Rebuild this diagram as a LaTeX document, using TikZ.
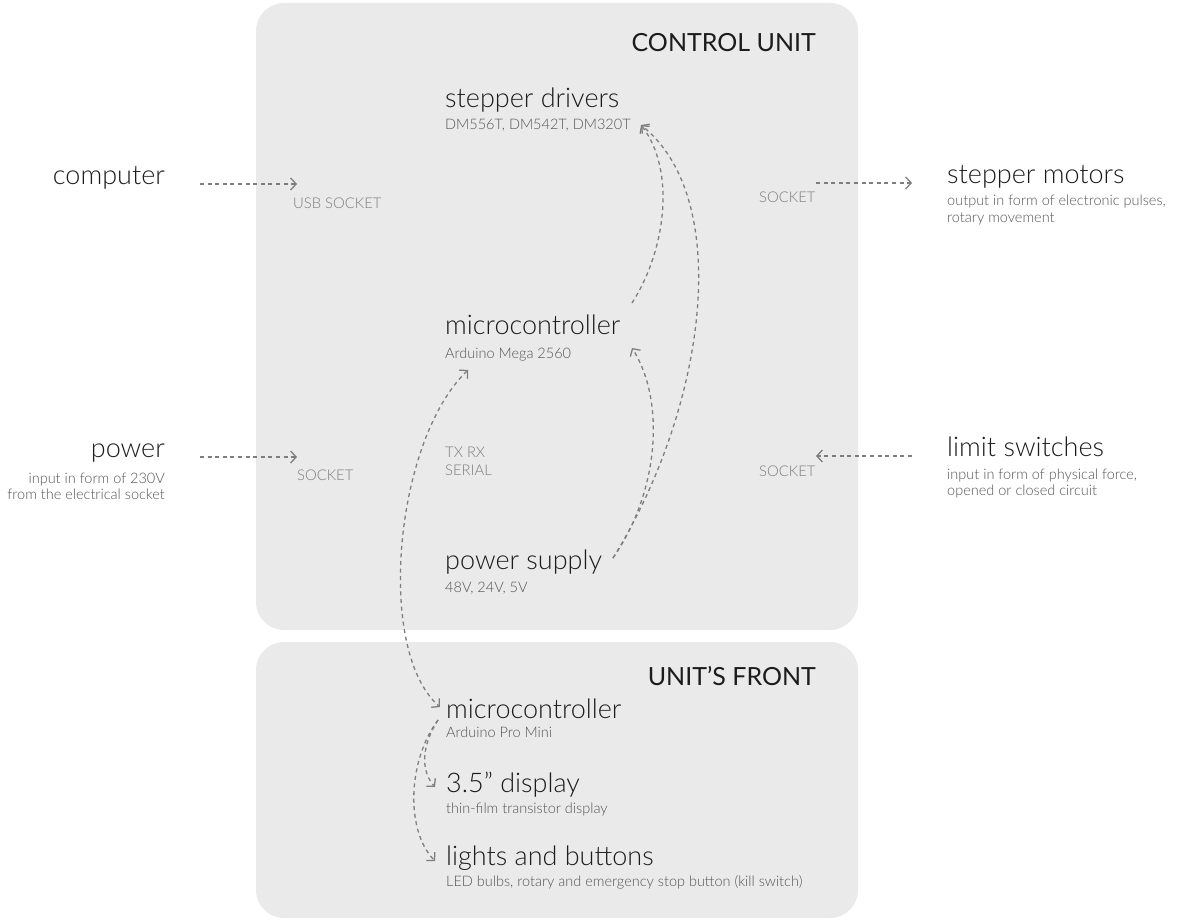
\documentclass[tikz,border=0pt]{standalone}
\usepackage{fontspec}
\IfFontExistsTF{Lato Light}{\setmainfont{Lato Light}}{\setmainfont{Lato}}
\newfontfamily\headfont{Lato}
\usetikzlibrary{arrows.meta,calc}
\definecolor{panelgray}{HTML}{EAEAEA}
\definecolor{titlecol}{HTML}{1C1C1C}
\definecolor{subcol}{HTML}{555555}
\definecolor{sockcol}{HTML}{7C7C7C}
\definecolor{linkcol}{HTML}{7E7E7E}
\tikzset{
  barb/.tip={Straight Barb[length=5.5pt,width=12pt,line width=1.3pt]},
  panel/.style={fill=panelgray, rounded corners=28pt},
  head/.style={inner sep=0pt, anchor=base east, text=titlecol, font=\headfont\fontsize{25}{30}\selectfont},
  ttl/.style={inner sep=0pt, text=titlecol, font=\fontsize{27}{31}\selectfont},
  sub/.style={inner sep=0pt, text=subcol, font=\fontsize{14.5}{17}\selectfont},
  sock/.style={inner sep=0pt, anchor=base west, text=sockcol, font=\fontsize{14.8}{17}\selectfont},
  link/.style={draw=linkcol, line width=1.3pt, dash pattern=on 4pt off 3.6pt, -{barb}},
  biglink/.style={link, {barb}-{barb}},
}
\begin{document}
\begin{tikzpicture}[x=1pt, y=-1pt]
\useasboundingbox (0,0) rectangle (1182,923);
\fill[white] (0,0) rectangle (1182,923);

% the two housings
\fill[panel] (256,3) rectangle (858,630);
\fill[panel] (256,642) rectangle (858,918);
\node[head] (cuhead) at (816,52) {CONTROL UNIT};
\node[head] (fronthead) at (816,685) {UNIT’S FRONT};

% control unit contents
\node[ttl, anchor=base west] (drv) at (445,108) {stepper drivers};
\node[sub, anchor=base west] (drvsub) at (445,129) {DM556T, DM542T, DM320T};
\node[ttl, anchor=base west] (mcu) at (445,334) {microcontroller};
\node[sub, anchor=base west] (mcusub) at (445,358) {Arduino Mega 2560};
\node[sock] (txrx) at (445,457) {TX RX};
\node[sock] (serial) at (445,475) {SERIAL};
\node[ttl, anchor=base west] (psu) at (445,569) {power supply};
\node[sub, anchor=base west] (psusub) at (445,592) {48V, 24V, 5V};

% sockets
\node[sock] (usb) at (293,208) {USB SOCKET};
\node[sock] (psock) at (297,480) {SOCKET};
\node[sock] (msock) at (759,202) {SOCKET};
\node[sock] (lsock) at (759,476) {SOCKET};

% front panel contents
\node[ttl, anchor=base west] (fmcu) at (446,718) {microcontroller};
\node[sub, anchor=base west] (fmcusub) at (446,737) {Arduino Pro Mini};
\node[ttl, anchor=base west] (disp) at (446,792) {3.5” display};
\node[sub, anchor=base west] (dispsub) at (446,813) {thin-film transistor display};
\node[ttl, anchor=base west] (lights) at (446,865) {lights and buttons};
\node[sub, anchor=base west] (lightssub) at (446,886) {LED bulbs, rotary and emergency stop button (kill switch)};

% outside world, left
\node[ttl, anchor=base east] (pc) at (165,184) {computer};
\node[ttl, anchor=base east] (mains) at (165,457) {power};
\node[sub, anchor=base east] (mainssub1) at (165,483) {input in form of 230V};
\node[sub, anchor=base east] (mainssub2) at (165,499) {from the electrical socket};

% outside world, right
\node[ttl, anchor=base west] (motors) at (947,183) {stepper motors};
\node[sub, anchor=base west] (motorssub1) at (947,205) {output in form of electronic pulses,};
\node[sub, anchor=base west] (motorssub2) at (947,222) {rotary movement};
\node[ttl, anchor=base west] (limit) at (947,456) {limit switches};
\node[sub, anchor=base west] (limitsub1) at (947,479) {input in form of physical force,};
\node[sub, anchor=base west] (limitsub2) at (947,495) {opened or closed circuit};

% straight links through the sockets
\draw[link] ($(pc.base east)+(35,0)$) -- ($(usb.base west)+(4,-24)$);
\draw[link] ($(mains.base east)+(35,0)$) -- ($(psock.base west)+(0,-23)$);
\draw[link] ($(msock.base west)+(57,-19)$) -- ($(motors.base west)+(-35,0)$);
\draw[link] ($(limit.base west)+(-35,0)$) -- ($(lsock.base west)+(57,-20)$);

% internal wiring of the control unit
\draw[link] ($(mcu.base west)+(187,-31)$) .. controls (666,250) and (676,170) .. ($(drvsub.base west)+(196,-4)$);
\draw[link] ($(psu.base west)+(168,-11)$) .. controls (705,410) and (735,200) .. ($(drvsub.base west)+(196,-4)$);
\draw[link] ($(psu.base west)+(168,-11)$) .. controls (660,490) and (665,400) .. ($(mcusub.base west)+(187,-10)$);

% serial line between the two controllers
\draw[biglink] ($(mcusub.base west)+(23,12)$) .. controls (395,440) and (375,650) .. ($(fmcu.base west)+(-6,-11)$);

% front panel wiring
\draw[link] ($(fmcusub.base west)+(-8,-17)$) .. controls (422,745) and (420,770) .. ($(disp.base west)+(-11,-5)$);
\draw[link] ($(fmcusub.base west)+(-8,-17)$) .. controls (408,760) and (405,830) .. ($(lights.base west)+(-11,-4)$);
\end{tikzpicture}
\end{document}
